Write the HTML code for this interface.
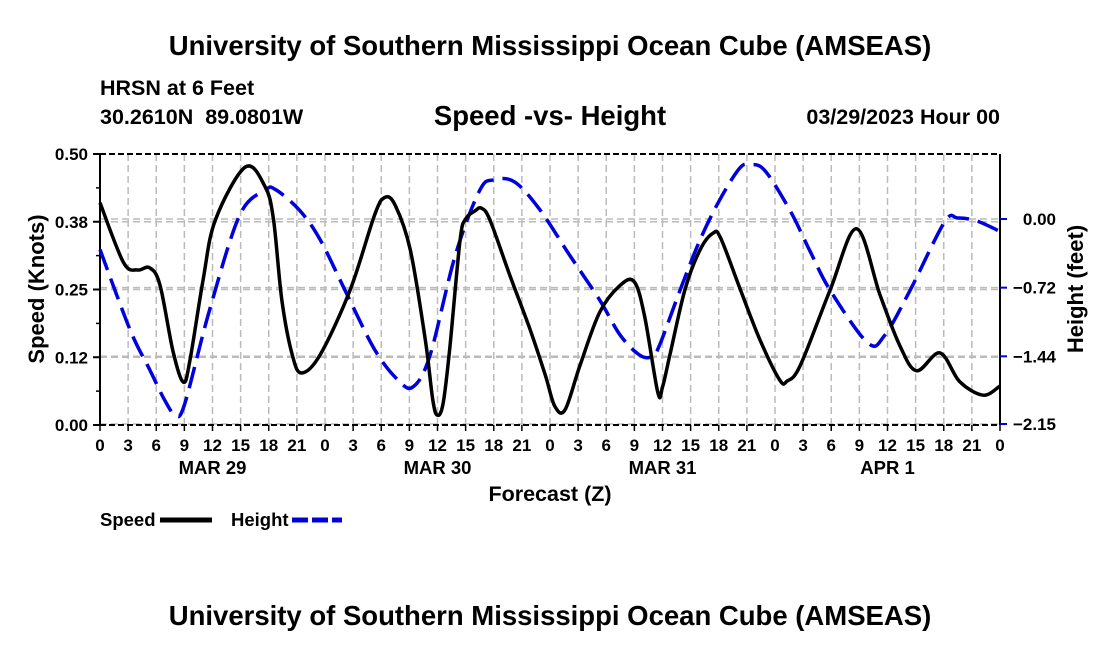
<!DOCTYPE html>
<html><head><meta charset="utf-8"><style>
html,body{margin:0;padding:0;background:#fff;width:1100px;height:650px;overflow:hidden}
svg{font-family:"Liberation Sans",Arial,sans-serif;font-weight:bold}
</style></head><body>
<svg id="chart" width="1100" height="650">
<text x="550" y="55" text-anchor="middle" font-size="27.5">University of Southern Mississippi Ocean Cube (AMSEAS)</text>
<text x="100" y="95" font-size="21.5">HRSN at 6 Feet</text>
<text x="100" y="124" font-size="21.5" xml:space="preserve">30.2610N  89.0801W</text>
<text x="550" y="125" text-anchor="middle" font-size="27.5">Speed -vs- Height</text>
<text x="1000" y="124" text-anchor="end" font-size="21.5">03/29/2023 Hour 00</text>
<g id="grid"></g>
<g id="axes"></g>
<g id="series"></g>
<text x="550" y="501" text-anchor="middle" font-size="21.5">Forecast (Z)</text>
<text transform="translate(44,289) rotate(-90)" text-anchor="middle" font-size="22">Speed (Knots)</text>
<text transform="translate(1083,289) rotate(-90)" text-anchor="middle" font-size="22">Height (feet)</text>
<g>
<text x="100" y="526" font-size="18.5">Speed</text>
<line x1="160" y1="520" x2="212" y2="520" stroke="#000" stroke-width="5"/>
<text x="231" y="526" font-size="18.5">Height</text>
<line x1="292" y1="520" x2="342" y2="520" stroke="#0000dd" stroke-width="5" stroke-dasharray="16,4"/>
</g>
<text x="550" y="625" text-anchor="middle" font-size="27.5">University of Southern Mississippi Ocean Cube (AMSEAS)</text>
</svg>
<script>
const speedHours=[0,2.5,4,5.3,6.4,7.8,8.9,9.6,11,12.3,15.5,17.6,18.5,19.4,20.5,21.5,23.5,26.7,29.3,30.4,31.5,33.1,34.7,35.5,36,36.6,37.3,38.4,39,40,40.7,41.6,43.7,45.9,47.5,48.5,49.6,51.2,53.3,55.5,57,58.1,59.5,60,60.8,62.4,64,65.4,66.2,68.3,70.4,72.5,73.3,74.7,77.9,80.7,83.2,85.3,87.1,89.6,91.7,94.2,96];
const speedValues=[.41,.30,.286,.29,.258,.135,.079,.12,.268,.378,.476,.44,.38,.23,.13,.096,.13,.25,.388,.42,.405,.323,.157,.046,.018,.04,.14,.34,.38,.395,.40,.378,.277,.175,.092,.035,.028,.11,.208,.258,.264,.2,.06,.07,.13,.25,.323,.354,.345,.25,.157,.083,.081,.11,.25,.362,.24,.147,.10,.133,.08,.055,.072];
const heightHours=[0,3.2,5.3,6.9,8,9,11.7,14.9,17.6,18.7,21.3,23.5,26.1,29.3,31.8,33.4,35.2,37.9,40.5,42,44.2,46.9,50.1,53.3,55.5,57.6,58.9,59.7,61.9,64,66.1,68.2,69.3,70.9,73.6,75.7,77.9,81.9,83.7,86.4,90.1,91.5,93.5,96];
const heightValues=[-0.32,-1.16,-1.58,-1.9,-2.05,-1.95,-0.95,0.04,0.30,0.31,0.09,-0.22,-0.74,-1.37,-1.69,-1.76,-1.43,-0.38,0.3,0.41,0.39,0.1,-0.38,-0.85,-1.22,-1.43,-1.44,-1.32,-0.74,-0.22,0.2,0.53,0.57,0.51,0.09,-0.33,-0.75,-1.30,-1.22,-0.75,-0.03,0.01,-0.02,-0.13];
const speedTicks=[0,0.125,0.25,0.375,0.5];
const speedTickLabels=["0.00","0.12","0.25","0.38","0.50"];
const heightTicks=[0,-0.72,-1.44,-2.15];
const heightTickLabels=["0.00","\u22120.72","\u22121.44","\u22122.15"];
const dayLabels=["MAR 29","MAR 30","MAR 31","APR 1"];

const L=100,R=1000,T=154,B=425;
const xS=h=>L+h/96*(R-L);
const yS=v=>B-v/0.5*(B-T);
const yH=v=>219-v*(205/2.15);
const NS="http://www.w3.org/2000/svg";
function mk(tag,attrs,parent){const e=document.createElementNS(NS,tag);for(const k in attrs)e.setAttribute(k,attrs[k]);parent.appendChild(e);return e;}
const grid=document.getElementById('grid'),axes=document.getElementById('axes'),series=document.getElementById('series');
for(let h=3;h<96;h+=3){const l=mk('line',{x1:xS(h),x2:xS(h),y1:T,y2:B,stroke:'#bbb','stroke-width':1.5,'stroke-dasharray':'7,4'},grid);

}
speedTicks.forEach((v,i)=>{if(i>0&&i<4){const l=mk('line',{x1:L,x2:R,y1:yS(v),y2:yS(v),stroke:'#bbb','stroke-width':1.5,'stroke-dasharray':'7,4'},grid);

}});
heightTicks.forEach((v,i)=>{const l=mk('line',{x1:L,x2:R,y1:yH(v),y2:yH(v),stroke:'#bbb','stroke-width':1.5,'stroke-dasharray':'7,4'},grid);

});
[[L,T,R,T],[L,B,R,B]].forEach(c=>{const l=mk('line',{x1:c[0],y1:c[1],x2:c[2],y2:c[3],stroke:'#000','stroke-width':2,'stroke-dasharray':'6,3'},axes);

});
const la=mk('line',{x1:L,y1:T,x2:L,y2:B,stroke:'#000','stroke-width':2},axes);


const ra=mk('line',{x1:R,y1:T,x2:R,y2:B,stroke:'#000','stroke-width':2},axes);


speedTicks.forEach((v,i)=>{mk('line',{x1:L-7,x2:L,y1:yS(v),y2:yS(v),stroke:'#000','stroke-width':2},axes);
const t=mk('text',{x:L-12,y:yS(v)+6,'text-anchor':'end','font-size':17},axes);t.textContent=speedTickLabels[i];


if(i<4){mk('line',{x1:L-4,x2:L,y1:yS(v+0.0625),y2:yS(v+0.0625),stroke:'#000','stroke-width':1.5},axes);}});
heightTicks.forEach((v,i)=>{mk('line',{x1:R,x2:R+7,y1:yH(v),y2:yH(v),stroke:'#0000dd','stroke-width':2},axes);
const t=mk('text',{x:R+56,y:yH(v)+6,'text-anchor':'end','font-size':17},axes);t.textContent=heightTickLabels[i];

});
for(let h=0;h<=96;h+=3){mk('line',{x1:xS(h),x2:xS(h),y1:B,y2:B+6,stroke:'#000','stroke-width':1.5},axes);
const t=mk('text',{x:xS(h),y:B+26,'text-anchor':'middle','font-size':17},axes);t.textContent=String(h%24);

}
dayLabels.forEach((d,i)=>{const t=mk('text',{x:xS(12+24*i),y:B+49,'text-anchor':'middle','font-size':18.5},axes);t.textContent=d;

});
function path(xs,ys){const p=xs.map((x,i)=>[x,ys[i]]);let d='M'+p[0][0]+','+p[0][1];
for(let i=0;i<p.length-1;i++){const p0=p[Math.max(0,i-1)],p1=p[i],p2=p[i+1],p3=p[Math.min(p.length-1,i+2)];
d+=` C${p1[0]+(p2[0]-p0[0])/6},${p1[1]+(p2[1]-p0[1])/6} ${p2[0]-(p3[0]-p1[0])/6},${p2[1]-(p3[1]-p1[1])/6} ${p2[0]},${p2[1]}`;}return d;}
const hp=mk('path',{d:path(heightHours.map(xS),heightValues.map(yH)),fill:'none',stroke:'#0000dd','stroke-width':3.5,'stroke-dasharray':'22,9'},series);


const sp=mk('path',{d:path(speedHours.map(xS),speedValues.map(yS)),fill:'none',stroke:'#000','stroke-width':3.5,'stroke-linejoin':'round'},series);


</script>
</body></html>
